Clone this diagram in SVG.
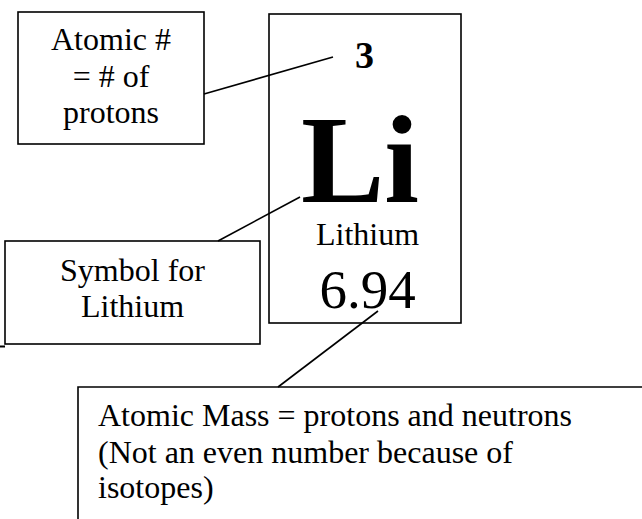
<svg xmlns="http://www.w3.org/2000/svg" width="642" height="519" viewBox="0 0 642 519">
<style>
.box{fill:#fff;stroke:#000;stroke-width:1.6}
.ln{stroke:#000;stroke-width:1.6;fill:none}
.t{font-family:"Liberation Serif","Times New Roman",serif;font-size:32px;fill:#000}
.c{text-anchor:middle}
.b{font-weight:bold}
.num{font-size:38px}
.big{font-size:125px}
.mass{font-size:55px}
</style>
<rect width="642" height="519" fill="#fff"/>
<g id="element">
<rect class="box" x="269" y="14" width="192" height="309"/>
<text class="t c b num" x="364.5" y="68">3</text>
<text class="t c b big" x="360" y="202">Li</text>
<text class="t c" x="367.5" y="245">Lithium</text>
<text class="t c mass" x="367.5" y="308">6.94</text>
</g>
<g id="atomic-number-note">
<rect class="box" x="18" y="12" width="186" height="132"/>
<text class="t c" x="111" y="50">Atomic #</text>
<text class="t c" x="111" y="86.5">= # of</text>
<text class="t c" x="111" y="123">protons</text>
</g>
<g id="symbol-note">
<rect class="box" x="5" y="241" width="255" height="103"/>
<text class="t c" x="132.5" y="281">Symbol for</text>
<text class="t c" x="132.5" y="317">Lithium</text>
</g>
<g id="mass-note">
<path class="ln" d="M78 519 V387 H642"/>
<text class="t" x="98" y="426">Atomic Mass = protons and neutrons</text>
<text class="t" x="98" y="462.5">(Not an even number because of</text>
<text class="t" x="98" y="498">isotopes)</text>
</g>
<g id="connectors">
<line class="ln" x1="204" y1="94" x2="333" y2="57"/>
<line class="ln" x1="218" y1="241" x2="300" y2="197"/>
<line class="ln" x1="378" y1="311" x2="278" y2="387"/>
<line class="ln" x1="0" y1="346.5" x2="5" y2="346.5" style="stroke-width:2"/>
</g>
</svg>
